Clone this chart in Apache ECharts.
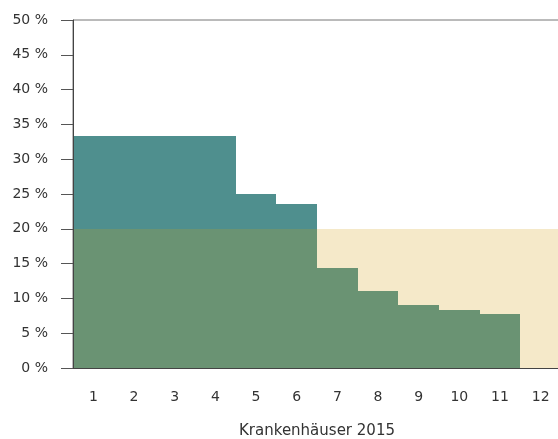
<!DOCTYPE html>
<html>
<head>
<meta charset="utf-8">
<script src="https://cdn.jsdelivr.net/npm/echarts@6/dist/echarts.min.js"></script>
<style>html,body{margin:0;padding:0;background:#fff;}#c{width:558px;height:439px;}</style>
</head>
<body>
<div id="c"></div>
<script>
const categories = ['1','2','3','4','5','6','7','8','9','10','11','12'];
const shares = [33.3, 33.3, 33.3, 33.3, 25.0, 23.6, 14.3, 11.1, 9.1, 8.3, 7.7, 0];
const threshold = 20;
const yTicks = [0, 50, 5];

const chart = echarts.init(document.getElementById('c'));
const font = 'DejaVu Sans';
const green = '#6a9373', beige = '#f5e9c9', teal = '#4f8f8e';

function renderItem(params, api) {
  const i = api.value(0);
  const v = api.value(1);
  const w = api.size([1, 0])[0];
  const c0 = api.coord([i, 0]);
  const xl = Math.round(c0[0] - w / 2);
  const xr = Math.round(c0[0] + w / 2);
  const yOf = val => Math.round(api.coord([i, val])[1]);
  const y0 = yOf(0), yT = yOf(threshold), yV = yOf(v);
  const yMid = yOf(Math.min(v, threshold));
  const children = [];
  const rect = (top, bottom, color) => {
    if (bottom > top) children.push({type: 'rect', shape: {x: xl, y: top, width: xr - xl, height: bottom - top}, style: {fill: color}});
  };
  rect(yMid, y0, green);
  rect(yT, yMid, beige);
  if (v > threshold) rect(yV, yT, teal);
  return {type: 'group', children};
}

chart.setOption({
  animation: false,
  grid: {left: 73, top: 20, right: -3, bottom: 71, show: true, borderColor: '#777', borderWidth: 1, backgroundColor: 'transparent', outerBoundsMode: 'none', containLabel: false},
  xAxis: {
    type: 'category', data: categories, z: 10,
    name: 'Krankenhäuser 2015', nameLocation: 'middle', nameGap: 56,
    nameTextStyle: {fontFamily: font, fontSize: 15, color: '#333'},
    axisLine: {lineStyle: {color: '#444', width: 1}},
    axisTick: {alignWithLabel: true, length: 11, lineStyle: {color: '#666'}},
    axisLabel: {fontFamily: font, fontSize: 14, color: '#333', margin: 22}
  },
  yAxis: {
    type: 'value', min: yTicks[0], max: yTicks[1], interval: yTicks[2], z: 10,
    axisLine: {show: true, lineStyle: {color: '#444', width: 1}},
    axisTick: {show: true, length: 12, lineStyle: {color: '#555'}},
    splitLine: {show: false},
    axisLabel: {fontFamily: font, fontSize: 14, color: '#333', margin: 25, formatter: '{value} %'}
  },
  series: [
    {type: 'custom', renderItem: renderItem, encode: {x: 0, y: 1}, data: shares.map((v, i) => [i, v]), z: 1}
  ]
});
</script>
</body>
</html>
